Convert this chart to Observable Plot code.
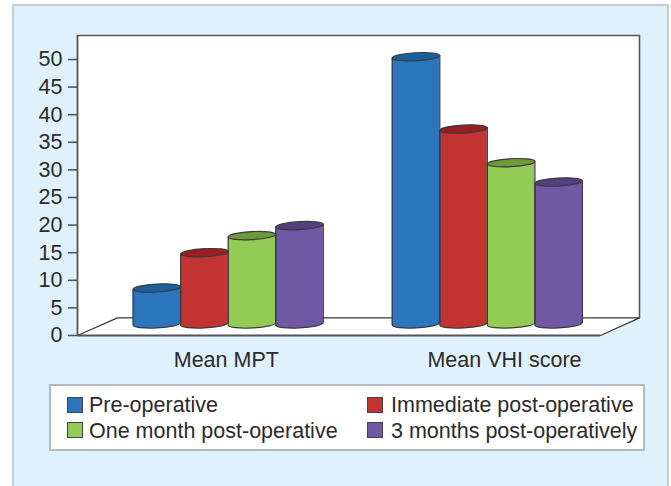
<!DOCTYPE html>
<html>
<head>
<meta charset="utf-8">
<script src="https://cdn.jsdelivr.net/npm/d3@7"></script>
<script src="https://cdn.jsdelivr.net/npm/@observablehq/plot@0.6"></script>
<style>
html,body{margin:0;padding:0;background:#fff;width:671px;height:486px;overflow:hidden;font-family:"Liberation Sans",Arial,sans-serif;}
#panel{position:absolute;left:12px;top:4px;width:657px;height:500px;box-sizing:border-box;background:#dff2fb;border:2px solid #c9cdd0;}
#chart{position:absolute;left:0;top:0;}
#legend{position:absolute;left:49px;top:384px;width:596px;height:67px;box-sizing:border-box;background:#fff;border:2px solid #b5babd;color:#2b2b2b;font-size:21.5px;}
.item{position:absolute;white-space:nowrap;line-height:24px;height:24px;}
.sw{position:absolute;width:16px;height:16px;box-sizing:border-box;border:1.5px solid #444;}
</style>
</head>
<body>
<div id="panel"></div>
<div id="chart"></div>
<div id="legend"></div>
<script>
const categories = ["Mean MPT", "Mean VHI score"];
const seriesNames = ["Pre-operative", "Immediate post-operative", "One month post-operative", "3 months post-operatively"];
const meanMPT = [6.5, 12.9, 16.0, 17.8];
const meanVHI = [48.4, 35.3, 29.2, 25.7];
const yTicks = [0, 5, 10, 15, 20, 25, 30, 35, 40, 45, 50];
const bodyColors = ["#2a75bb", "#c13432", "#92cb55", "#7158a5"];
const topColors = ["#1c5f9e", "#9a1f22", "#6c9a38", "#54407f"];

const groupStarts = [1.17, 6.62];
const labelCenters = [3.13, 8.98];
const base = 2.1;
const tilt = 0.245;
const ink = "#3a3a3a";
const axisInk = "#555";
const textInk = "#2b2b2b";

const bars = [];
[meanMPT, meanVHI].forEach((vals, g) => vals.forEach((v, s) => bars.push({
  id: g + "-" + s, left: groupStarts[g] + s, right: groupStarts[g] + s + 1,
  mid: groupStarts[g] + s + 0.5, top: v + base, fill: bodyColors[s], cap: topColors[s]
})));
const bodyRows = bars.flatMap(b => [
  {id: b.id, x: b.left, y1: base - tilt, y2: b.top - tilt, fill: b.fill},
  {id: b.id, x: b.right, y1: base + tilt, y2: b.top + tilt, fill: b.fill}
]);

// tilted flat ellipse used as the cylinder cap and foot
const ellipse = {
  draw(ctx) {
    const rx = 23.8, ry = 4, a = -0.056, k = 0.5523;
    const c = Math.cos(a), s = Math.sin(a);
    const p = (u, v) => [u * c - v * s, u * s + v * c];
    ctx.moveTo(...p(-rx, 0));
    ctx.bezierCurveTo(...p(-rx, -k * ry), ...p(-k * rx, -ry), ...p(0, -ry));
    ctx.bezierCurveTo(...p(k * rx, -ry), ...p(rx, -k * ry), ...p(rx, 0));
    ctx.bezierCurveTo(...p(rx, k * ry), ...p(k * rx, ry), ...p(0, ry));
    ctx.bezierCurveTo(...p(-k * rx, ry), ...p(-rx, k * ry), ...p(-rx, 0));
    ctx.closePath();
  }
};

const wallRight = 11.82, wallTop = 54.35, floorBack = 3.2;
const floorFill = [{x: 0, y1: 0, y2: floorBack}, {x: 11, y1: 0, y2: floorBack}, {x: wallRight, y1: floorBack, y2: floorBack}];
const floorLine = [{x: 0, y: 0}, {x: 0.84, y: floorBack}, {x: wallRight, y: floorBack}, {x: 11, y: 0}];

const plot = Plot.plot({
  width: 671, height: 486,
  marginLeft: 77, marginRight: 71, marginTop: 59, marginBottom: 151,
  style: {background: "transparent", fontFamily: "'Liberation Sans', Arial, sans-serif", fontSize: "21.5px", overflow: "visible"},
  x: {domain: [0, 11], range: [77, 600], axis: null},
  y: {domain: [0, 50], range: [335, 59], axis: null},
  color: {type: "identity"},
  marks: [
    Plot.rect([{}], {x1: () => 0, x2: () => wallRight, y1: () => floorBack, y2: () => wallTop, fill: "#fff"}),
    Plot.area(floorFill, {x1: "x", y1: "y1", y2: "y2", fill: "#fff"}),
    Plot.line([{x: 0, y: wallTop}, {x: wallRight, y: wallTop}, {x: wallRight, y: floorBack}], {x: "x", y: "y", stroke: axisInk, strokeWidth: 1.6}),
    Plot.line(floorLine, {x: "x", y: "y", stroke: ink, strokeWidth: 1.2}),
    Plot.ruleX([0], {y1: () => 0, y2: () => wallTop, stroke: axisInk, strokeWidth: 1.8}),
    Plot.ruleY([0], {x1: () => 0, x2: () => 11, stroke: axisInk, strokeWidth: 1.8}),
    Plot.axisY({ticks: yTicks, tickSize: 9, tickPadding: 6, label: null, stroke: axisInk, strokeWidth: 1.6, fill: textInk, fontSize: 21.5}),
    Plot.dot(bars, {x: "mid", y: () => base, symbol: ellipse, fill: "fill", stroke: ink, strokeWidth: 1.2}),
    Plot.area(bodyRows, {x1: "x", y1: "y1", y2: "y2", z: "id", fill: "fill"}),
    Plot.ruleX(bars, {x: "left", y1: () => base - tilt, y2: d => d.top - tilt, stroke: ink, strokeWidth: 1.2}),
    Plot.ruleX(bars, {x: "right", y1: () => base + tilt, y2: d => d.top + tilt, stroke: ink, strokeWidth: 1.2}),
    Plot.dot(bars, {x: "mid", y: "top", symbol: ellipse, fill: "cap", stroke: ink, strokeWidth: 1.2}),
    Plot.text(categories, {x: (d, i) => labelCenters[i], y: () => -4.5, text: d => d, fill: textInk, fontSize: 21.5})
  ]
});
document.getElementById("chart").appendChild(plot);

// legend: row/col order follows the reference
const legendLayout = [[0, 0], [1, 0], [0, 1], [1, 1]];
const legend = document.getElementById("legend");
seriesNames.forEach((name, i) => {
  const [col, row] = legendLayout[i];
  const sw = document.createElement("div");
  sw.className = "sw";
  sw.style.cssText = `left:${col ? 316 : 16}px;top:${row ? 36 : 11}px;background:${bodyColors[i]}`;
  const t = document.createElement("div");
  t.className = "item";
  t.textContent = name;
  t.style.cssText = `left:${col ? 340 : 38}px;top:${row ? 33 : 7}px`;
  legend.append(sw, t);
});
</script>
</body>
</html>
